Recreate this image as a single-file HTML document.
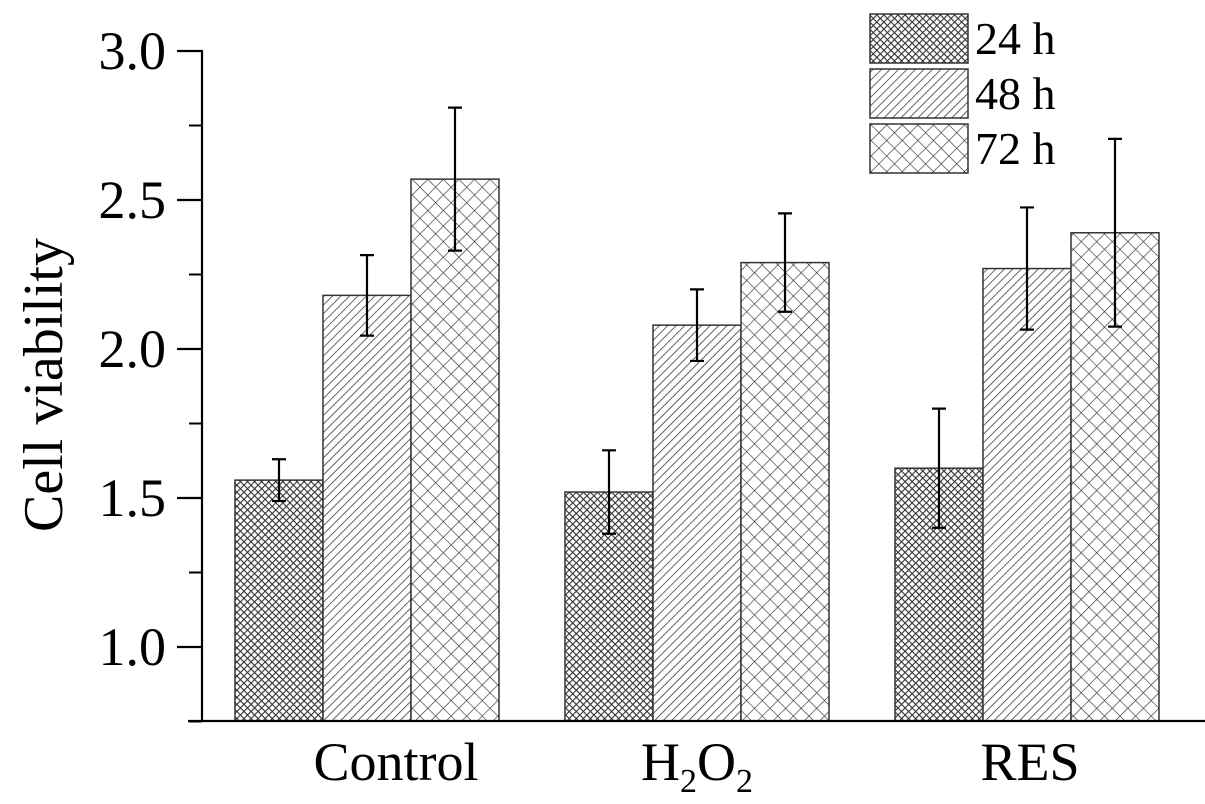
<!DOCTYPE html>
<html><head><meta charset="utf-8"><style>
body{margin:0;background:#fff}
svg text{font-family:"Liberation Serif",serif;fill:#000}
</style></head><body>
<svg id="chart" width="1205" height="799" viewBox="0 0 1205 799" xmlns="http://www.w3.org/2000/svg">
<defs>
<pattern id="p24" patternUnits="userSpaceOnUse" width="5" height="5" patternTransform="rotate(45)">
<rect width="5" height="5" fill="#fff"/><path d="M0 0H5M0 0V5" stroke="#333" stroke-width="2.2"/></pattern>
<pattern id="p48" patternUnits="userSpaceOnUse" width="6" height="6" patternTransform="rotate(45)">
<rect width="6" height="6" fill="#fff"/><path d="M0 0V6" stroke="#333" stroke-width="1.5"/></pattern>
<pattern id="p72" patternUnits="userSpaceOnUse" width="11" height="11" patternTransform="rotate(45)">
<rect width="11" height="11" fill="#fff"/><path d="M0 0H11M0 0V11" stroke="#333" stroke-width="1.3"/></pattern>
</defs>
<g id="plot"></g>
</svg>
<script>
const categories=["Control","H2O2","RES"];
const series=["24 h","48 h","72 h"];
const v24=[1.56,1.52,1.60];
const v48=[2.18,2.08,2.27];
const v72=[2.57,2.29,2.39];
const e24=[0.07,0.14,0.20];
const e48=[0.135,0.12,0.205];
const e72=[0.24,0.165,0.315];
const yTicks=["1.0","1.5","2.0","2.5","3.0"];

const NS="http://www.w3.org/2000/svg";
const g=document.getElementById('plot');
function y(v){return 647-(v-1.0)*298;}
const groupStart=[235,565,895], bw=88;
function mk(tag,attrs){const e=document.createElementNS(NS,tag);for(const k in attrs)e.setAttribute(k,attrs[k]);g.appendChild(e);return e;}
const vals=[v24,v48,v72], errs=[e24,e48,e72], pats=["p24","p48","p72"];
categories.forEach((c,ci)=>{
  for(let s=0;s<3;s++){
    const x=groupStart[ci]+s*bw, v=vals[s][ci], e=errs[s][ci];
    const r=mk('rect',{x:x,y:y(v),width:bw,height:721-y(v),fill:'url(#'+pats[s]+')',stroke:'#333','stroke-width':1.5});
    
    
    const cx=x+bw/2;
    const eb=mk('path',{d:`M${cx} ${y(v+e)}V${y(v-e)}M${cx-7} ${y(v+e)}H${cx+7}M${cx-7} ${y(v-e)}H${cx+7}`,stroke:'#000','stroke-width':2.2,fill:'none'});
    
    
  }
});
const ax=mk('path',{d:'M202 50V721M188 721H1205',stroke:'#000','stroke-width':2.2,fill:'none'});


yTicks.forEach(t=>{
  const yy=y(parseFloat(t));
  const tk=mk('line',{x1:177,x2:202,y1:yy,y2:yy,stroke:'#000','stroke-width':2.2});
  
  
  const m=mk('line',{x1:189,x2:202,y1:yy+74.5,y2:yy+74.5,stroke:'#000','stroke-width':2});
  
  
  const tx=mk('text',{x:166,y:yy+18,'text-anchor':'end','font-size':54});
  tx.textContent=t;
  
  
});
const yt=mk('text',{transform:'translate(62 385) rotate(-90)','text-anchor':'middle','font-size':56});
yt.textContent='Cell viability';


const xl=[{t:'Control',x:396},{t:'H2O2',x:697},{t:'RES',x:1030}];
xl.forEach((o,i)=>{
  const tx=mk('text',{x:o.x,y:780,'text-anchor':'middle','font-size':54});
  if(i===1){tx.innerHTML='H<tspan font-size="34" dy="12">2</tspan><tspan dy="-12">O</tspan><tspan font-size="34" dy="12">2</tspan>';}
  else tx.textContent=o.t;
  
  
});
const ly=[14,69,124];
series.forEach((s,i)=>{
  const r=mk('rect',{x:870,y:ly[i],width:98,height:49,fill:'url(#'+pats[i]+')',stroke:'#333','stroke-width':1.5});
  
  
  const t=mk('text',{x:975,y:ly[i]+40,'font-size':46});
  t.textContent=s;
  
  
});
</script>
</body></html>
